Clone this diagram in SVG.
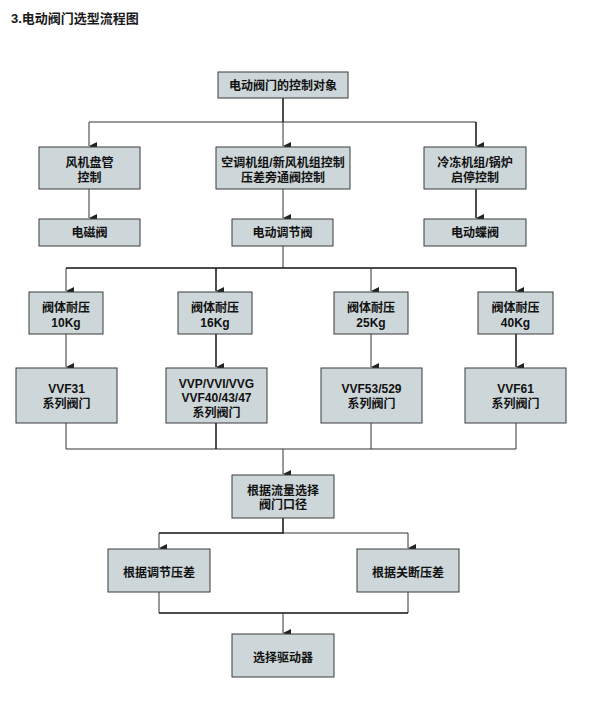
<svg xmlns="http://www.w3.org/2000/svg" width="599" height="713" viewBox="0 0 599 713">
<defs>
<marker id="ah" markerUnits="userSpaceOnUse" markerWidth="8" markerHeight="8" refX="3" refY="6" orient="auto-start-reverse" viewBox="0 0 6 6">
<path d="M0,0 L6,0 L3,6 Z" fill="#222"/>
</marker>
<style>
.box{fill:#cdd6d9;stroke:#3a3a3a;stroke-width:1}
.t{font-family:"Liberation Sans","Noto Sans CJK SC",sans-serif;font-size:12px;font-weight:bold;fill:#111;text-anchor:middle}
.ln{fill:none;stroke:#333;stroke-width:1}
.lk{fill:none;stroke:#111;stroke-width:1.5}
.title{font-family:"Liberation Sans","Noto Sans CJK SC",sans-serif;font-size:13px;font-weight:bold;fill:#1a1a1a}
</style>
</defs>
<rect x="0" y="0" width="599" height="713" fill="#ffffff"/>
<text class="title" x="11" y="23">3.电动阀门选型流程图</text>

<g id="connectors">
<path class="lk" d="M283,98 V122"/>
<path class="ln" d="M283,122 V146" marker-end="url(#ah)"/>
<path class="ln" d="M89,122 H476"/>
<path class="ln" d="M89,122 V146" marker-end="url(#ah)"/>
<path class="lk" d="M476,122 V146" marker-end="url(#ah)"/>
<path class="ln" d="M89,189 V218" marker-end="url(#ah)"/>
<path class="ln" d="M283,189 V218" marker-end="url(#ah)"/>
<path class="lk" d="M476,189 V218" marker-end="url(#ah)"/>
<path class="ln" d="M283,246 V268"/>
<path class="lk" d="M66,268 H516"/>
<path class="ln" d="M66,268 V291" marker-end="url(#ah)"/>
<path class="lk" d="M216,268 V291" marker-end="url(#ah)"/>
<path class="ln" d="M371,268 V291" marker-end="url(#ah)"/>
<path class="lk" d="M516,268 V291" marker-end="url(#ah)"/>
<path class="ln" d="M66,334 V367" marker-end="url(#ah)"/>
<path class="lk" d="M216,334 V367" marker-end="url(#ah)"/>
<path class="ln" d="M371,334 V367" marker-end="url(#ah)"/>
<path class="lk" d="M516,334 V367" marker-end="url(#ah)"/>
<path class="ln" d="M66,423 V449 H516 V423"/>
<path class="lk" d="M216,423 V449"/>
<path class="ln" d="M371,423 V449"/>
<path class="ln" d="M283,449 V474" marker-end="url(#ah)"/>
<path class="lk" d="M283,518 V533 H159"/>
<path class="ln" d="M283,533 H408"/>
<path class="ln" d="M159,533 V548" marker-end="url(#ah)"/>
<path class="ln" d="M408,533 V548" marker-end="url(#ah)"/>
<path class="ln" d="M159,592 V613"/>
<path class="ln" d="M408,592 V613"/>
<path class="lk" d="M159,613 H408"/>
<path class="ln" d="M283,613 V633" marker-end="url(#ah)"/>
</g>

<g id="n0"><rect class="box" x="218" y="72" width="130" height="26"/><text class="t" x="283" y="89.5">电动阀门的控制对象</text></g>
<g id="n1"><rect class="box" x="39" y="147" width="101" height="42"/><text class="t" x="89.5" y="166.5">风机盘管</text><text class="t" x="89.5" y="181.5">控制</text></g>
<g id="n2"><rect class="box" x="216" y="147" width="134" height="42"/><text class="t" x="283" y="166.5">空调机组/新风机组控制</text><text class="t" x="283" y="181.5">压差旁通阀控制</text></g>
<g id="n3"><rect class="box" x="424" y="147" width="102" height="42"/><text class="t" x="475" y="166.5">冷冻机组/锅炉</text><text class="t" x="475" y="181.5">启停控制</text></g>
<g id="n4"><rect class="box" x="39" y="219" width="101" height="27"/><text class="t" x="89.5" y="237">电磁阀</text></g>
<g id="n5"><rect class="box" x="232" y="219" width="101" height="27"/><text class="t" x="282.5" y="237">电动调节阀</text></g>
<g id="n6"><rect class="box" x="424" y="219" width="102" height="27"/><text class="t" x="475" y="237">电动蝶阀</text></g>
<g id="n7"><rect class="box" x="29" y="292" width="74" height="42"/><text class="t" x="66" y="311.5">阀体耐压</text><text class="t" x="66" y="326.5">10Kg</text></g>
<g id="n8"><rect class="box" x="178" y="292" width="74" height="42"/><text class="t" x="215" y="311.5">阀体耐压</text><text class="t" x="215" y="326.5">16Kg</text></g>
<g id="n9"><rect class="box" x="334" y="292" width="74" height="42"/><text class="t" x="371" y="311.5">阀体耐压</text><text class="t" x="371" y="326.5">25Kg</text></g>
<g id="n10"><rect class="box" x="478" y="292" width="75" height="42"/><text class="t" x="515.5" y="311.5">阀体耐压</text><text class="t" x="515.5" y="326.5">40Kg</text></g>
<g id="n11"><rect class="box" x="16" y="368" width="101" height="55"/><text class="t" x="66.5" y="392.5">VVF31</text><text class="t" x="66.5" y="407.5">系列阀门</text></g>
<g id="n12"><rect class="box" x="166" y="368" width="101" height="55"/><text class="t" x="216.5" y="387.5">VVP/VVI/VVG</text><text class="t" x="216.5" y="402">VVF40/43/47</text><text class="t" x="216.5" y="416.5">系列阀门</text></g>
<g id="n13"><rect class="box" x="321" y="368" width="101" height="55"/><text class="t" x="371.5" y="392.5">VVF53/529</text><text class="t" x="371.5" y="407.5">系列阀门</text></g>
<g id="n14"><rect class="box" x="465" y="368" width="101" height="55"/><text class="t" x="515.5" y="392.5">VVF61</text><text class="t" x="515.5" y="407.5">系列阀门</text></g>
<g id="n15"><rect class="box" x="232" y="475" width="102" height="43"/><text class="t" x="283" y="494.5">根据流量选择</text><text class="t" x="283" y="508.5">阀门口径</text></g>
<g id="n16"><rect class="box" x="108" y="549" width="102" height="43"/><text class="t" x="159" y="576.5">根据调节压差</text></g>
<g id="n17"><rect class="box" x="357" y="549" width="102" height="43"/><text class="t" x="408" y="576.5">根据关断压差</text></g>
<g id="n18"><rect class="box" x="232" y="634" width="102" height="43"/><text class="t" x="283" y="661.5">选择驱动器</text></g>
</svg>
